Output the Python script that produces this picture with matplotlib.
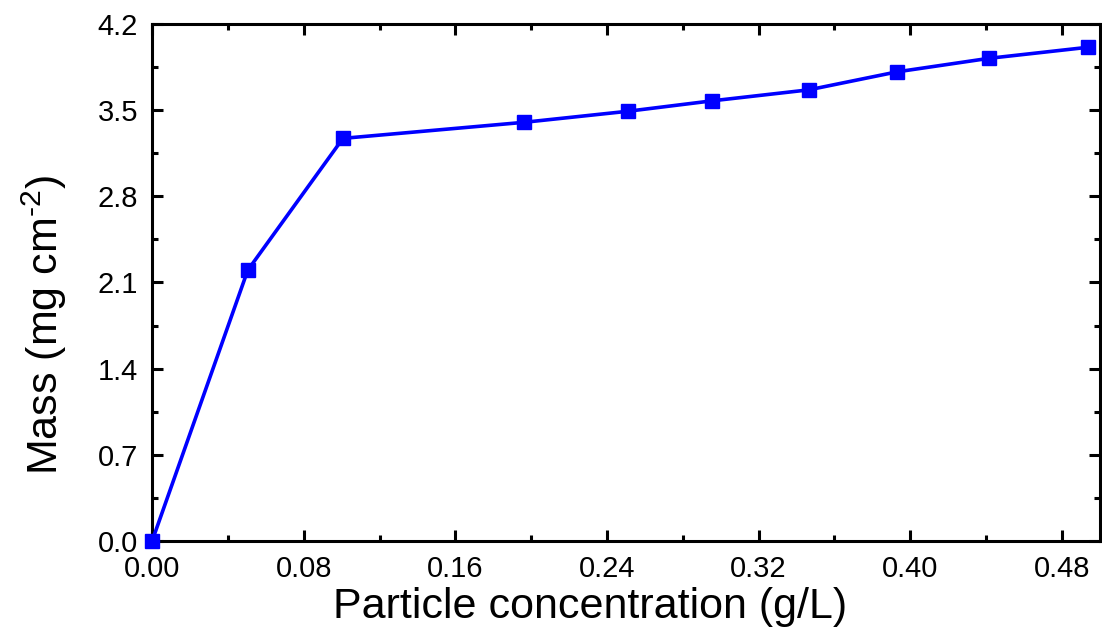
#!/usr/bin/env python3
"""Deposited mass versus particle concentration."""

import matplotlib

matplotlib.use("Agg")

import matplotlib.pyplot as plt
from matplotlib.ticker import FormatStrFormatter, MultipleLocator

CONCENTRATION = [0.0, 0.0505, 0.1007, 0.196, 0.251, 0.2956, 0.3465, 0.393, 0.4416, 0.494]
MASS = [0.0, 2.20, 3.27, 3.40, 3.49, 3.575, 3.664, 3.81, 3.92, 4.01]

LINE_COLOR = "#0000FF"

plt.rcParams.update(
    {
        "font.family": ["Liberation Sans", "DejaVu Sans"],
        "mathtext.fontset": "custom",
        "mathtext.rm": "Liberation Sans",
        "mathtext.it": "Liberation Sans:italic",
    }
)

fig = plt.figure(figsize=(11.02, 6.27), dpi=100)
ax = fig.add_axes([0.138, 0.137, 0.860, 0.825])

ax.plot(
    CONCENTRATION,
    MASS,
    color=LINE_COLOR,
    linewidth=2.6,
    marker="s",
    markersize=9.5,
    markerfacecolor=LINE_COLOR,
    markeredgecolor=LINE_COLOR,
    clip_on=False,
    zorder=3,
)

ax.set_xlim(0.0, 0.5)
ax.set_ylim(0.0, 4.2)
ax.xaxis.set_major_locator(MultipleLocator(0.08))
ax.xaxis.set_minor_locator(MultipleLocator(0.04))
ax.yaxis.set_major_locator(MultipleLocator(0.7))
ax.yaxis.set_minor_locator(MultipleLocator(0.35))
ax.xaxis.set_major_formatter(FormatStrFormatter("%.2f"))
ax.yaxis.set_major_formatter(FormatStrFormatter("%.1f"))

ax.tick_params(which="both", direction="in", top=True, right=True, width=2.2, labelsize=21)
ax.tick_params(which="major", length=8, pad=10)
ax.tick_params(which="minor", length=4.5)
for spine in ax.spines.values():
    spine.set_linewidth(2.2)

ax.set_xlabel("Particle concentration (g/L)", fontsize=31)
ax.set_ylabel(r"Mass (mg cm$^{\text{-2}}$)", fontsize=31)
ax.xaxis.set_label_coords(0.462, -0.088)
ax.yaxis.set_label_coords(-0.088, 0.418)

fig.savefig("out.png", dpi=100)
